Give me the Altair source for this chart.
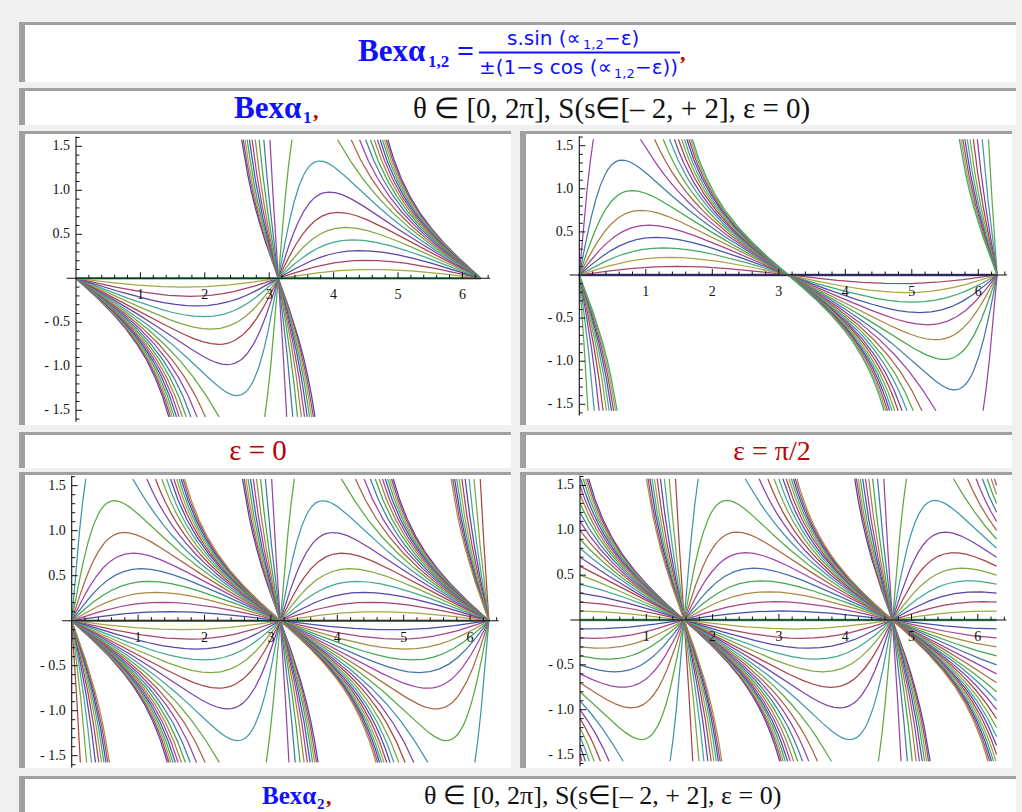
import colorsys

import altair as alt
import numpy as np
import pandas as pd

# ---------------------------------------------------------------------------
# Parameter values s of the plotted families (each panel is one Table over s)
# ---------------------------------------------------------------------------
S_NEG = [-2.0, -1.9, -1.8, -1.7, -1.6, -1.5, -1.4, -1.3, -1.2, -1.1, -1.0,
         -0.9, -0.8, -0.7, -0.6, -0.5, -0.4, -0.3, -0.2, -0.1, 0.0]
S_POS = [0.0, 0.1, 0.2, 0.3, 0.4, 0.5, 0.6, 0.7, 0.8, 0.9, 1.0,
         1.1, 1.2, 1.3, 1.4, 1.5, 1.6, 1.7, 1.8, 1.9, 2.0]
S_FULL = S_NEG + S_POS[1:]

EPS_TOP = 0.0
EPS_LEFT = 0.0
EPS_RIGHT = np.pi / 2

CAPTIONS = ["ε = 0", "ε = π/2"]
RANGE_TEXT = "θ ∈ [0, 2π], S(s∈[– 2, + 2], ε = 0)"

X_TICK_VALUES = [1, 2, 3, 4, 5, 6]
X_TICK_LABELS = ["1", "2", "3", "4", "5", "6"]
Y_TICK_VALUES = [-1.5, -1.0, -0.5, 0.5, 1.0, 1.5]
Y_TICK_LABELS = ["- 1.5", "- 1.0", "- 0.5", "0.5", "1.0", "1.5"]

Y_CLIP = 1.575          # plot range of the curves
SERIF = "Liberation Serif"
SANS = "DejaVu Sans"
BLUE = "#1010ff"
RED = "#c00000"
GRAY = "#a0a0a0"
PAGE = "#f0f0f0"
W, H = 1022, 812


def bex(theta, s, eps):
    a = theta - eps
    with np.errstate(divide="ignore", invalid="ignore"):
        return s * np.sin(a) / (1.0 - s * np.cos(a))


def hue_color(n):
    h = (0.69 + 0.236 * n) % 1.0
    r, g, b = colorsys.hsv_to_rgb(h, 0.6, 0.66)
    return "#%02x%02x%02x" % (int(r * 255), int(g * 255), int(b * 255))


def inside(v):
    return np.isfinite(v) & (np.abs(v) <= Y_CLIP)


def edge(t_in, t_out, s, eps):
    a, b = t_in, t_out
    for _ in range(40):
        m = 0.5 * (a + b)
        if inside(bex(m, s, eps)):
            a = m
        else:
            b = m
    v = float(bex(a, s, eps))
    return a, float(np.clip(v, -Y_CLIP, Y_CLIP))


def simplify(pts, ux, uy, tol=0.25):
    p = np.asarray(pts)
    if len(p) < 3:
        return p
    X, Y = p[:, 0] * ux, p[:, 1] * uy
    keep = np.zeros(len(p), bool)
    keep[0] = keep[-1] = True
    stack = [(0, len(p) - 1)]
    while stack:
        a, b = stack.pop()
        if b <= a + 1:
            continue
        idx = np.arange(a + 1, b)
        dx, dy = X[b] - X[a], Y[b] - Y[a]
        L = np.hypot(dx, dy)
        if L == 0:
            d = np.hypot(X[idx] - X[a], Y[idx] - Y[a])
        else:
            d = np.abs(dy * (X[idx] - X[a]) - dx * (Y[idx] - Y[a])) / L
        j = int(np.argmax(d))
        if d[j] > tol:
            m = int(idx[j])
            keep[m] = True
            stack += [(a, m), (m, b)]
    return p[keep]


def family_rows(s_list, eps, ux, uy, n=3000):
    th = np.linspace(0.0, 2 * np.pi, n)
    rows = []
    for k, s in enumerate(s_list):
        y = bex(th, s, eps)
        ok = inside(y)
        segs, cur = [], []
        for i in range(n):
            if not ok[i]:
                continue
            if not cur and i > 0:
                cur.append(edge(th[i], th[i - 1], s, eps))
            cur.append((th[i], float(y[i])))
            if i == n - 1 or not ok[i + 1]:
                if i < n - 1:
                    cur.append(edge(th[i], th[i + 1], s, eps))
                segs.append(cur)
                cur = []
        col = hue_color(k)
        for j, seg in enumerate(segs):
            for t, v in simplify(seg, ux, uy):
                rows.append({"t": round(float(t), 4), "v": round(float(v), 4),
                             "seg": f"{k:02d}-{j}", "c": col,
                             "w": 2.6 if s == 0 else 1.25})
    return pd.DataFrame(rows)


def panel(s_list, eps, box, x0, ux, y0, uy):
    left, top, right, bottom = box
    xs = alt.Scale(domain=[(left - x0) / ux, (right - x0) / ux],
                   range=[left, right], nice=False, zero=False)
    ys = alt.Scale(domain=[(y0 - bottom) / uy, (y0 - top) / uy],
                   range=[bottom, top], nice=False, zero=False)
    X = lambda f: alt.X(f, scale=xs, axis=None)
    Y = lambda f: alt.Y(f, scale=ys, axis=None)

    curves = alt.Chart(family_rows(s_list, eps, ux, uy)).mark_line(
        clip=False, strokeCap="butt"
    ).encode(
        x=X("t:Q"), y=Y("v:Q"), detail="seg:N",
        color=alt.Color("c:N", scale=None),
        strokeWidth=alt.StrokeWidth("w:Q", scale=None),
    )

    axes_df = pd.DataFrame([
        {"x": -0.145, "x2": 6.43, "y": 0.0, "y2": 0.0},
        {"x": 0.0, "x2": 0.0, "y": -1.63, "y2": 1.61},
    ])
    axes = alt.Chart(axes_df).mark_rule(color="#111111", strokeWidth=1.1).encode(
        x=X("x:Q"), x2="x2", y=Y("y:Q"), y2="y2")

    xt = [round(0.2 * i, 1) for i in range(1, 33)]
    xtick_df = pd.DataFrame({"x": xt, "y": 0.0,
                             "y2": [(6.0 if abs(v - round(v)) < 1e-9 else 3.5) / uy for v in xt]})
    xticks = alt.Chart(xtick_df).mark_rule(color="#111111", strokeWidth=1).encode(
        x=X("x:Q"), y=Y("y:Q"), y2="y2")

    yt = [round(0.1 * i, 1) for i in range(-16, 17) if i != 0]
    ytick_df = pd.DataFrame({"y": yt, "x": 0.0,
                             "x2": [(6.0 if abs(v * 2 - round(v * 2)) < 1e-9 else 3.5) / ux for v in yt]})
    yticks = alt.Chart(ytick_df).mark_rule(color="#111111", strokeWidth=1).encode(
        y=Y("y:Q"), x=X("x:Q"), x2="x2")

    xlab = alt.Chart(pd.DataFrame({"x": X_TICK_VALUES, "y": 0.0, "txt": X_TICK_LABELS})).mark_text(
        font=SERIF, fontSize=14, color="#111111", baseline="middle", align="center", dy=17
    ).encode(x=X("x:Q"), y=Y("y:Q"), text="txt:N")

    ylab = alt.Chart(pd.DataFrame({"x": 0.0, "y": Y_TICK_VALUES, "txt": Y_TICK_LABELS})).mark_text(
        font=SERIF, fontSize=14, color="#111111", baseline="middle", align="right", dx=-6
    ).encode(x=X("x:Q"), y=Y("y:Q"), text="txt:N")

    return alt.layer(curves, axes, xticks, yticks, xlab, ylab)


# ---------------------------------------------------------------------------
# Page frame: white boxes with a grey bar on the left and a grey rule on top
# ---------------------------------------------------------------------------
BOXES = [
    (19, 22, 1016, 82), (19, 88, 1016, 125),
    (19, 131, 511, 425), (520, 131, 1012, 425),
    (19, 432, 511, 468), (520, 432, 1012, 468),
    (19, 472, 511, 768), (520, 472, 1012, 768),
    (19, 776, 1016, 815),
]
px = alt.Scale(domain=[0, W], range=[0, W], nice=False, zero=False)
py = alt.Scale(domain=[0, H], range=[0, H], nice=False, zero=False)
PX = lambda f: alt.X(f, scale=px, axis=None)
PY = lambda f: alt.Y(f, scale=py, axis=None)

frame_rows = []
for (l, t, r, b) in BOXES:
    frame_rows.append({"x": l, "x2": r, "y": t, "y2": b, "c": "#ffffff"})
    frame_rows.append({"x": l, "x2": r, "y": t, "y2": t + 3, "c": GRAY})
    frame_rows.append({"x": l, "x2": l + 6, "y": t, "y2": b, "c": GRAY})
frame = alt.Chart(pd.DataFrame(frame_rows)).mark_rect().encode(
    x=PX("x:Q"), x2="x2", y=PY("y:Q"), y2="y2", color=alt.Color("c:N", scale=None))


def texts(rows, **mark):
    return alt.Chart(pd.DataFrame(rows)).mark_text(baseline="alphabetic", **mark).encode(
        x=PX("x:Q"), y=PY("y:Q"), text="txt:N")


title_bold = texts([
    {"x": 358, "y": 61, "txt": "Bexα", "size": 31},
    {"x": 234, "y": 118, "txt": "Bexα", "size": 31},
    {"x": 262, "y": 804, "txt": "Bexα", "size": 25},
], font=SERIF, fontWeight="bold", color=BLUE, align="left").encode(
    size=alt.Size("size:Q", scale=None))
title_sub = texts([
    {"x": 428, "y": 67, "txt": "1,2", "size": 17},
    {"x": 303, "y": 123, "txt": "1", "size": 17},
    {"x": 317, "y": 809, "txt": "2", "size": 15},
], font=SERIF, fontWeight="bold", color=BLUE, align="left").encode(
    size=alt.Size("size:Q", scale=None))
title_eq = texts([{"x": 457, "y": 61, "txt": "="}],
                 font=SERIF, fontSize=30, fontWeight="bold", color=BLUE, align="left")
red_comma = texts([
    {"x": 680, "y": 60, "txt": ","},
    {"x": 313, "y": 118, "txt": ","},
    {"x": 326, "y": 804, "txt": ","},
], font=SERIF, fontSize=22, fontWeight="bold", color=RED, align="left")
frac_main = texts([
    {"x": 507, "y": 45, "txt": "s.sin (∝"},
    {"x": 604, "y": 45, "txt": "−ε)"},
    {"x": 479, "y": 74, "txt": "±(1−s cos (∝"},
    {"x": 635, "y": 74, "txt": "−ε))"},
], font=SANS, fontSize=20, color=BLUE, align="left")
frac_sub = texts([
    {"x": 583, "y": 49, "txt": "1,2"},
    {"x": 614, "y": 78, "txt": "1,2"},
], font=SANS, fontSize=13, color=BLUE, align="left")
frac_rules = alt.Chart(pd.DataFrame([
    {"x": 479, "x2": 680, "y": 52.5},
])).mark_rule(color=BLUE, strokeWidth=1.8).encode(x=PX("x:Q"), x2="x2", y=PY("y:Q"))
range_text = texts([
    {"x": 413, "y": 118, "txt": RANGE_TEXT, "size": 29},
    {"x": 424, "y": 804, "txt": RANGE_TEXT, "size": 26},
], font=SERIF, color="#111111", align="left").encode(size=alt.Size("size:Q", scale=None))
captions = texts([
    {"x": 258, "y": 460, "txt": CAPTIONS[0], "size": 29},
    {"x": 772, "y": 460, "txt": CAPTIONS[1], "size": 28},
], font=SERIF, color=RED, align="center").encode(size=alt.Size("size:Q", scale=None))

decor = alt.layer(frame, title_bold, title_sub, title_eq, red_comma, frac_main,
                  frac_sub, frac_rules, range_text, captions)

tl = panel(S_NEG, EPS_TOP, (25, 134, 511, 425), 76.0, 64.4, 278.3, 88.0)
tr = panel(S_POS, EPS_TOP, (526, 134, 1012, 425), 579.3, 66.5, 275.0, 86.2)
bl = panel(S_FULL, EPS_LEFT, (25, 475, 511, 768), 71.7, 66.4, 620.7, 90.0)
br = panel(S_FULL, EPS_RIGHT, (526, 475, 1012, 768), 580.0, 66.3, 620.0, 89.7)

chart = alt.layer(decor, tl, tr, bl, br).resolve_scale(
    x="independent", y="independent"
).properties(
    width=W, height=H, padding=0, background=PAGE,
    autosize=alt.AutoSizeParams(type="none"),
).configure_view(stroke=None)

chart.save("out.html", embed_options={"renderer": "svg", "actions": False})
